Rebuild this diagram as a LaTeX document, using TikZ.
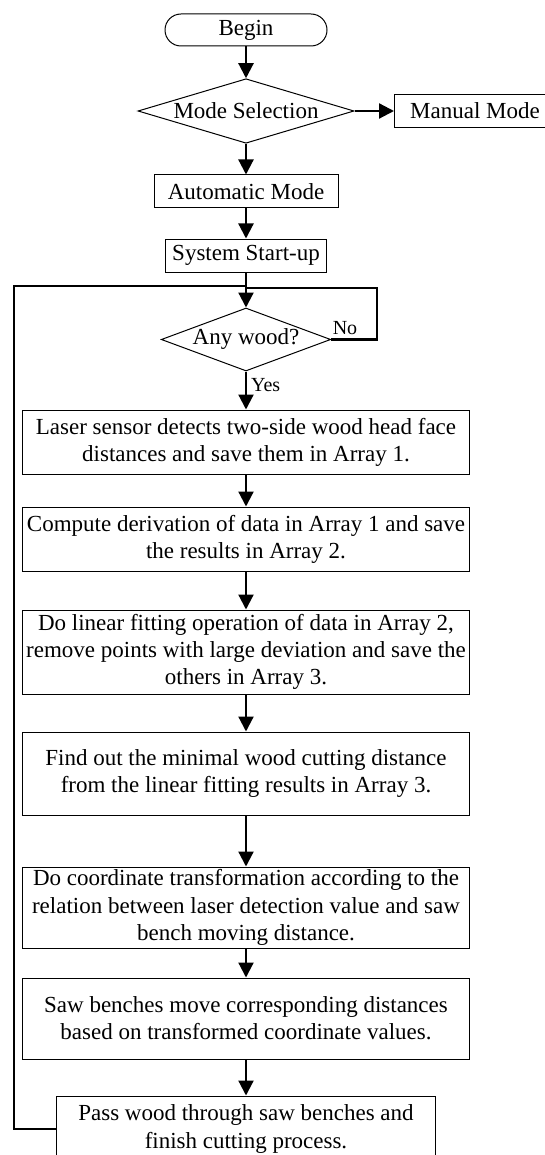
\documentclass[tikz,border=0pt]{standalone}
\usepackage{fontspec}
\setmainfont{Liberation Serif}
\usetikzlibrary{shapes.geometric, arrows.meta}

\begin{document}
\begin{tikzpicture}[x=0.5pt, y=-0.5pt, >={Triangle[length=7.5pt, width=7.5pt]}]
    % Styles
    \tikzstyle{every node}=[font=\fontsize{11.5}{13.6}\selectfont]
    \tikzstyle{terminal}=[rectangle, rounded corners=8pt, draw, line width=0.5pt, minimum width=81pt, minimum height=16pt, inner sep=0pt]
    \tikzstyle{decision}=[diamond, draw, line width=0.5pt, aspect=3, inner sep=0pt]
    \tikzstyle{process}=[rectangle, draw, line width=0.5pt, minimum height=16.5pt, inner sep=0pt, align=center]
    \tikzstyle{flow}=[->, line width=1.1pt]
    \tikzstyle{back}=[line width=1.1pt]
    \tikzstyle{answer}=[font=\fontsize{10}{12}\selectfont, inner sep=2pt]

    \useasboundingbox (0,0) rectangle (545,1155);

    % Nodes
    \node[terminal] (begin) at (246,30) {Begin};
    \node[decision, minimum width=108pt, minimum height=32pt] (mode) at (246,111) {Mode Selection};
    \node[process, minimum width=80.5pt] (manual) at (475,111) {Manual Mode};
    \node[process, minimum width=92pt] (auto) at (246,191.5) {Automatic Mode};
    \node[process, minimum width=80.5pt] (start) at (246,255.5) {System Start-up};
    \node[decision, minimum width=81pt, minimum height=31.5pt] (wood) at (246,339.5) {Any wood?};
    \node[process, minimum width=223.5pt, minimum height=32pt] (detect) at (246,442)
        {Laser sensor detects two-side wood head face\\distances and save them in Array 1.};
    \node[process, minimum width=223.5pt, minimum height=32pt] (deriv) at (246,539)
        {Compute derivation of data in Array 1 and save\\the results in Array 2.};
    \node[process, minimum width=223.5pt, minimum height=42pt] (fit) at (246,652)
        {Do linear fitting operation of data in Array 2,\\remove points with large deviation and save the\\others in Array 3.};
    \node[process, minimum width=223.5pt, minimum height=41.5pt] (minimal) at (246,773.5)
        {Find out the minimal wood cutting distance\\from the linear fitting results in Array 3.};
    \node[process, minimum width=223.5pt, minimum height=40.5pt] (transform) at (246,907.5)
        {Do coordinate transformation according to the\\relation between laser detection value and saw\\bench moving distance.};
    \node[process, minimum width=223.5pt, minimum height=40.5pt] (move) at (246,1018.5)
        {Saw benches move corresponding distances\\based on transformed coordinate values.};
    \node[process, minimum width=189.5pt, minimum height=33pt] (pass) at (246,1129)
        {Pass wood through saw benches and\\finish cutting process.};

    % Arrows
    \draw[flow] (begin) -- (mode);
    \draw[flow] (mode) -- (manual);
    \draw[flow] (mode) -- (auto);
    \draw[flow] (auto) -- (start);
    \draw[flow] (start) -- (wood);
    \draw[flow] (wood) -- node[answer, right, pos=0.35]{Yes} (detect);
    \draw[flow] (detect) -- (deriv);
    \draw[flow] (deriv) -- (fit);
    \draw[flow] (fit) -- (minimal);
    \draw[flow] (minimal) -- (transform);
    \draw[flow] (transform) -- (move);
    \draw[flow] (move) -- (pass);

    % Loops back to the wood check
    \coordinate (joinL) at (246,286);
    \coordinate (joinR) at (246,288);
    \draw[back] (wood.east) -- node[answer, above, pos=0.3]{No} ++(46,0) |- (joinR);
    \draw[back] (pass.west) -- ++(-42,0) |- (joinL);
\end{tikzpicture}
\end{document}
